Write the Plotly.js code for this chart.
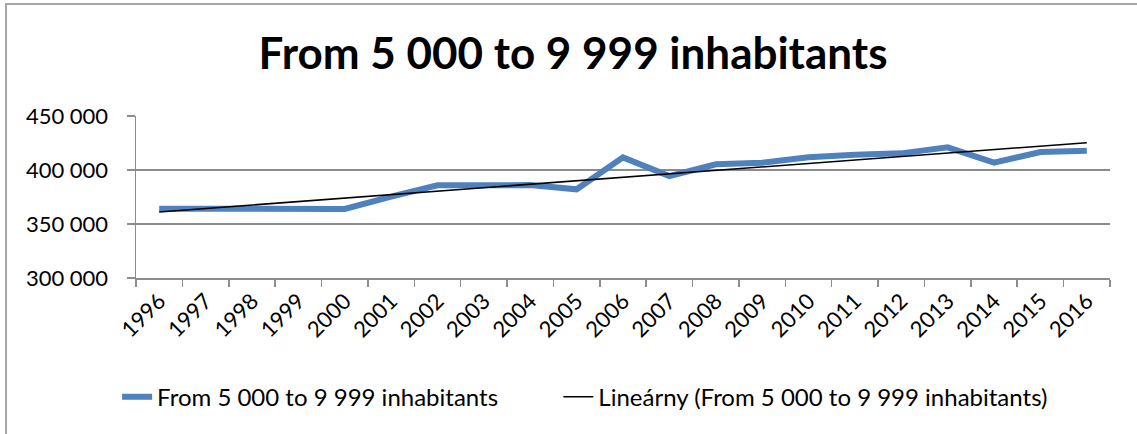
<!DOCTYPE html>
<html>
<head>
<meta charset="utf-8">
<script src="https://cdn.plot.ly/plotly-3.0.1.min.js"></script>
<style>
  html, body { margin: 0; padding: 0; background: #fff; }
  #chart { position: absolute; left: 0; top: 0; width: 1137px; height: 434px; }
  #frame { position: absolute; left: 5px; top: 3px; width: 1200px; height: 500px;
           border-left: 2px solid #a6a6a6; border-top: 2px solid #a6a6a6;
           pointer-events: none; z-index: 10; }
</style>
</head>
<body>
<div id="chart"></div>
<div id="frame"></div>
<script>
const years = ['1996','1997','1998','1999','2000','2001','2002','2003','2004','2005','2006',
               '2007','2008','2009','2010','2011','2012','2013','2014','2015','2016'];
const inhabitants = [364200, 364000, 364000, 364500, 364000, 375300, 385800, 385800, 386000, 382100, 411700,
                     394400, 405300, 406800, 411700, 414200, 415400, 421000, 406800, 416700, 417900];
const seriesName = 'From 5 000 to 9 999 inhabitants';
const trendName = 'Lineárny (From 5 000 to 9 999 inhabitants)';

// linear least-squares trend from the data
const n = inhabitants.length;
let sx = 0, sy = 0, sxx = 0, sxy = 0;
inhabitants.forEach((v, i) => { sx += i; sy += v; sxx += i * i; sxy += i * v; });
const slope = (n * sxy - sx * sy) / (n * sxx - sx * sx);
const intercept = (sy - slope * sx) / n;
const trend = inhabitants.map((v, i) => intercept + slope * i);

const font = 'Lato, "Open Sans", sans-serif';

const data = [
  { x: years, y: inhabitants, type: 'scatter', mode: 'lines',
    name: seriesName + '\u00a0'.repeat(9),
    line: { color: '#4f81bd', width: 6 } },
  { x: years, y: trend, type: 'scatter', mode: 'lines', name: trendName,
    line: { color: '#000000', width: 1.6 } }
];

const layout = {
  width: 1137, height: 434,
  margin: { l: 136, r: 27, t: 116, b: 156, autoexpand: false },
  paper_bgcolor: '#ffffff', plot_bgcolor: '#ffffff',
  separators: '. ',
  font: { family: font, color: '#000', size: 22 },
  title: { text: '<b>From 5 000 to 9 999 inhabitants</b>', x: 0.504, xanchor: 'center',
           y: 0.876, yanchor: 'middle', font: { family: font, size: 44, color: '#000' } },
  xaxis: {
    type: 'category', range: [-0.5, 20.5], tickangle: -45, tickson: 'boundaries',
    ticks: 'outside', ticklen: 7, tickcolor: '#8c8c8c', tickwidth: 1.5,
    showline: true, linecolor: '#8c8c8c', linewidth: 1.5,
    showgrid: false, zeroline: false,
    tickfont: { family: font, size: 22, color: '#000' }
  },
  yaxis: {
    range: [300000, 450000], dtick: 50000, tickformat: ',d',
    ticks: 'outside', ticklen: 8, tickcolor: '#8c8c8c', tickwidth: 1.5,
    showline: true, linecolor: '#8c8c8c', linewidth: 1.5,
    showgrid: true, gridcolor: '#8c8c8c', gridwidth: 1.5, zeroline: false,
    ticklabelstandoff: 14,
    tickfont: { family: font, size: 22, color: '#000' }
  },
  showlegend: true,
  legend: { orientation: 'h', x: 0.103, xanchor: 'left', xref: 'container',
            y: 0.085, yanchor: 'middle', yref: 'container',
            font: { family: font, size: 24, color: '#000' }, itemwidth: 30 }
};

Plotly.newPlot('chart', data, layout, { displayModeBar: false, staticPlot: true });
</script>
</body>
</html>
